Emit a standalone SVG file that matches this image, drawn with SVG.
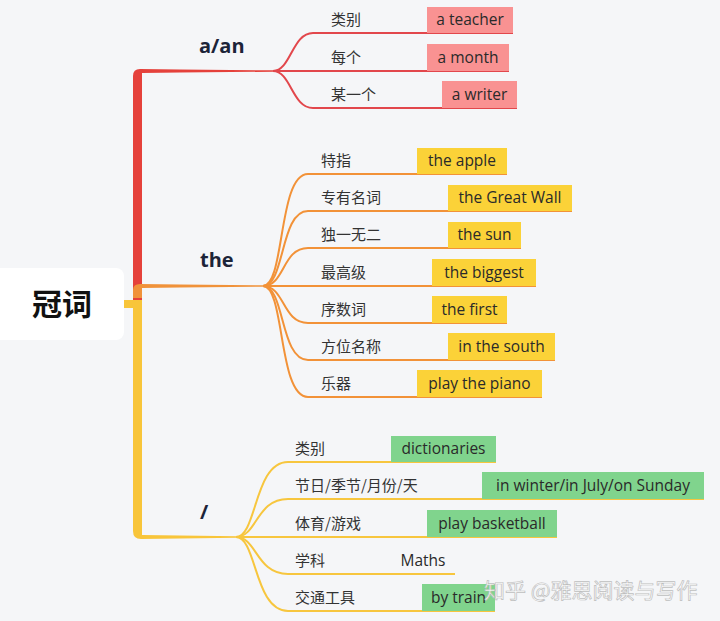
<svg xmlns="http://www.w3.org/2000/svg" width="720" height="621" viewBox="0 0 720 621">
<style>
.cn{font-family:"Noto Sans CJK SC","Noto Sans",sans-serif;font-size:15px;fill:#333}
.en{font-family:"Open Sans","Liberation Sans",sans-serif;font-size:15.5px;fill:#2a2a2a;text-anchor:middle}
.br{font-family:"Open Sans","Liberation Sans",sans-serif;font-size:20px;font-weight:bold;fill:#1c2438}
.lr{fill:none;stroke:#e2474c;stroke-width:2}
.lo{fill:none;stroke:#f29238;stroke-width:2}
.ly{fill:none;stroke:#f7c63e;stroke-width:2}
.bp{fill:#f99292}
.by{fill:#fbd238}
.bg{fill:#80d48d}
</style>
<rect width="720" height="621" fill="#f5f6f8"/>
<g id="connectors">
  <rect x="124" y="300" width="11" height="8" fill="#f8c53a"/>
  <path d="M133,300 V76 Q133,69 140,69 L180,69.6 L274,70.3 V71.7 L180,72.6 L142,73 V300 Z" fill="#e5413b"/>
  <path d="M133,531 V300 H142 V535 L180,535.6 L237,536.3 V537.7 L180,538.6 L141,539 Q133,539 133,531 Z" fill="#f8c53a"/>
  <path d="M133,298 V290 Q133,284 140,284 L180,284.6 L264,285.3 V286.7 L180,287.6 L142,288 V298 Z" fill="#f0923a"/>
  <!-- a/an -->
  <path class="lr" d="M273,71 C291,71 292,33 313,33 H513"/>
  <path class="lr" d="M273,71 H509"/>
  <path class="lr" d="M273,71 C291,71 292,108 313,108 H517"/>
  <!-- the -->
  <path class="lo" d="M263,286 C285,286 278,174 308,174 H507"/>
  <path class="lo" d="M263,286 C285,286 280,211 308,211 H572"/>
  <path class="lo" d="M263,286 C285,286 282,248 308,248 H521"/>
  <path class="lo" d="M263,286 H536"/>
  <path class="lo" d="M263,286 C285,286 282,323 308,323 H507"/>
  <path class="lo" d="M263,286 C285,286 280,360 308,360 H555"/>
  <path class="lo" d="M263,286 C285,286 278,397 308,397 H542"/>
  <!-- / -->
  <path class="ly" d="M236,537 C257,537 254,462 288,462 H496"/>
  <path class="ly" d="M236,537 C257,537 256,499 288,499 H704"/>
  <path class="ly" d="M236,537 H557"/>
  <path class="ly" d="M236,537 C257,537 256,574 288,574 H455"/>
  <path class="ly" d="M236,537 C257,537 254,611 288,611 H495"/>
</g>
<g id="root">
  <rect x="-8" y="268" width="132" height="72" rx="8" fill="#ffffff"/>
  <text x="62" y="315" text-anchor="middle" font-family="Noto Sans CJK SC, Noto Sans, sans-serif" font-size="30" font-weight="bold" fill="#111">冠词</text>
</g>
<g id="n-aan"><text class="br" x="199" y="53">a/an</text></g>
<g id="n-the"><text class="br" x="200" y="267">the</text></g>
<g id="n-none"><text class="br" x="200" y="519">/</text></g>

<g id="aan-1"><text class="cn" x="331" y="25">类别</text><rect class="bp" x="427" y="7" width="86" height="26"/><text class="en" x="470" y="25">a teacher</text></g>
<g id="aan-2"><text class="cn" x="331" y="63">每个</text><rect class="bp" x="427" y="44" width="82" height="27"/><text class="en" x="468" y="63">a month</text></g>
<g id="aan-3"><text class="cn" x="331" y="100">某一个</text><rect class="bp" x="442" y="81" width="75" height="27"/><text class="en" x="479.5" y="100">a writer</text></g>

<g id="the-1"><text class="cn" x="321" y="166">特指</text><rect class="by" x="417" y="148" width="90" height="26"/><text class="en" x="462" y="166">the apple</text></g>
<g id="the-2"><text class="cn" x="321" y="203">专有名词</text><rect class="by" x="448" y="185" width="124" height="26"/><text class="en" x="510" y="203">the Great Wall</text></g>
<g id="the-3"><text class="cn" x="321" y="240">独一无二</text><rect class="by" x="448" y="222" width="73" height="26"/><text class="en" x="484.5" y="240">the sun</text></g>
<g id="the-4"><text class="cn" x="321" y="278">最高级</text><rect class="by" x="432" y="259" width="104" height="27"/><text class="en" x="484" y="278">the biggest</text></g>
<g id="the-5"><text class="cn" x="321" y="315">序数词</text><rect class="by" x="432" y="296" width="75" height="27"/><text class="en" x="469.5" y="315">the first</text></g>
<g id="the-6"><text class="cn" x="321" y="352">方位名称</text><rect class="by" x="448" y="333" width="107" height="27"/><text class="en" x="501.5" y="352">in the south</text></g>
<g id="the-7"><text class="cn" x="321" y="389">乐器</text><rect class="by" x="417" y="370" width="125" height="27"/><text class="en" x="479.5" y="389">play the piano</text></g>

<g id="none-1"><text class="cn" x="295" y="454">类别</text><rect class="bg" x="391" y="436" width="105" height="26"/><text class="en" x="443.5" y="454">dictionaries</text></g>
<g id="none-2"><text class="cn" x="295" y="491">节日/季节/月份/天</text><rect class="bg" x="482" y="472" width="222" height="27"/><text class="en" x="593" y="491">in winter/in July/on Sunday</text></g>
<g id="none-3"><text class="cn" x="295" y="529">体育/游戏</text><rect class="bg" x="427" y="510" width="130" height="27"/><text class="en" x="492" y="529">play basketball</text></g>
<g id="none-4"><text class="cn" x="295" y="566">学科</text><text class="en" x="423" y="566">Maths</text></g>
<g id="none-5"><text class="cn" x="295" y="603">交通工具</text><rect class="bg" x="422" y="584" width="73" height="27"/><text class="en" x="458.5" y="603">by train</text></g>

<text x="484" y="598" font-family="Noto Sans CJK SC, Noto Sans, sans-serif" font-size="21" fill="#ffffff" stroke="#b8b8b8" stroke-width="0.7" opacity="0.9">知乎 @雅思阅读与写作</text>
</svg>
